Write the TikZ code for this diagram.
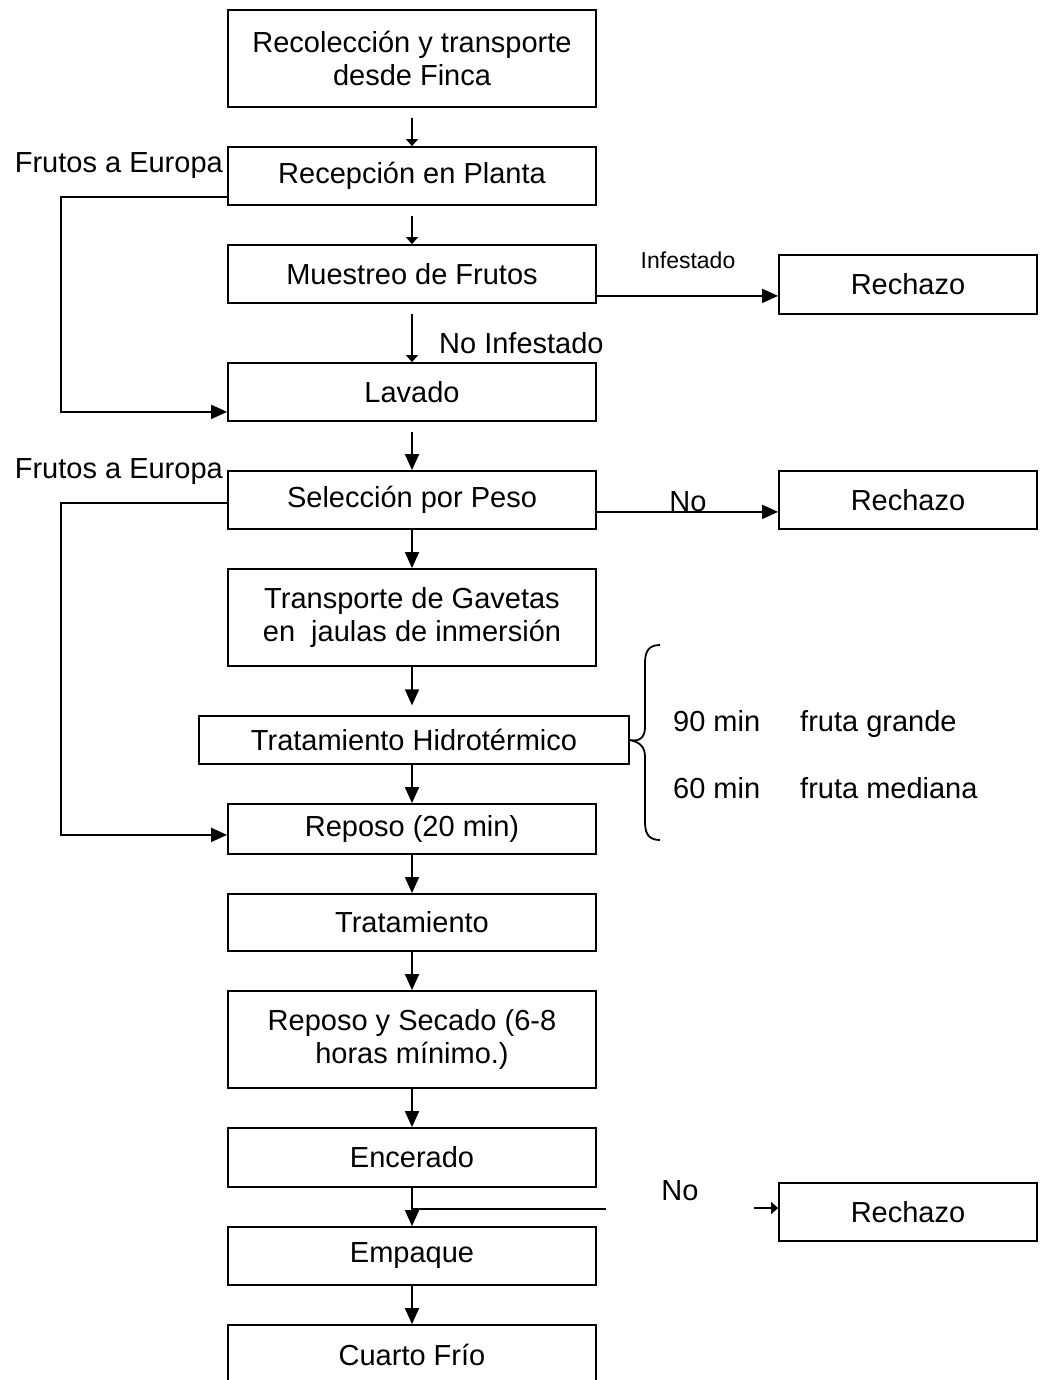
\documentclass[tikz,border=0pt]{standalone}
\usepackage{fontspec}
\setmainfont{Liberation Sans}
\usetikzlibrary{arrows.meta,calc}
\begin{document}
\begin{tikzpicture}[x=1pt,y=-1pt,
  txt/.style={font=\fontsize{29pt}{33pt}\selectfont},
  smalltxt/.style={font=\fontsize{23pt}{26pt}\selectfont},
  box/.style={draw, line width=1.8pt, rectangle, inner sep=0pt, align=center, minimum width=368pt, txt},
  rbox/.style={box, minimum width=258pt},
  conn/.style={line width=1.8pt},
  arr/.style={conn, -{Triangle[length=16pt,width=14pt]}},
  sarr/.style={conn, -{Triangle[length=7pt,width=12pt]}}]
\useasboundingbox (0,0) rectangle (1041,1380);
\fill[white] (0,0) rectangle (1041,1380);

% main boxes
\node[box, minimum height=97pt] (b1) at (412,58.5) {Recolección y transporte\\desde Finca};
\node[box, minimum height=58pt] (b2) at (412,176) {Recepción en Planta};
\node[box, minimum height=58pt] (b3) at (412,274) {Muestreo de Frutos};
\node[rbox, minimum height=59pt] (r1) at (908,284.5) {Rechazo};
\node[box, minimum height=58pt] (b4) at (412,392) {Lavado};
\node[box, minimum height=58pt] (b5) at (412,500) {Selección por Peso};
\node[rbox, minimum height=58pt] (r2) at (908,500) {Rechazo};
\node[box, minimum height=97pt] (b6) at (412,617.5) {Transporte de Gavetas\\en\ \ jaulas de inmersión};
\node[box, line width=1.3pt, minimum width=430pt, minimum height=48pt] (b7) at (414,740) {Tratamiento Hidrotérmico};
\node[box, minimum height=50pt] (b8) at (412,829) {Reposo (20 min)};
\node[box, minimum height=57pt] (b9) at (412,922.5) {Tratamiento};
\node[box, minimum height=97pt] (b10) at (412,1039.5) {Reposo y Secado (6-8\\horas mínimo.)};
\node[box, minimum height=59pt] (b11) at (412,1157.5) {Encerado};
\node[box, minimum height=58pt] (b12) at (412,1256) {Empaque};
\node[box, minimum height=60pt] (b13) at (412,1355) {Cuarto Frío};
\node[rbox, minimum height=58pt] (r3) at (908,1212) {Rechazo};

% labels
\node[txt, anchor=east, inner sep=0pt] (fe1) at (223,166) {Frutos a Europa};
\node[txt, anchor=east, inner sep=0pt] (fe2) at (223,472) {Frutos a Europa};
\node[smalltxt, inner sep=0pt] (linf) at (688,260) {Infestado};
\node[txt, anchor=west, inner sep=0pt] (lninf) at (439,343) {No Infestado};
\node[txt, anchor=base, inner sep=0pt] (lno1) at (688,511) {No};
\node[txt, inner sep=0pt] (lno2) at (680,1191) {No};
\node[txt, anchor=base west, inner sep=0pt] (t90) at (673,731) {90 min};
\node[txt, anchor=base west, inner sep=0pt] (tg) at (800,731) {fruta grande};
\node[txt, anchor=base west, inner sep=0pt] (t60) at (673,798) {60 min};
\node[txt, anchor=base west, inner sep=0pt] (tm) at (800,798) {fruta mediana};

% vertical flow
\draw[sarr] ($(b1.south)+(0,10)$) -- (b2.north);
\draw[sarr] ($(b2.south)+(0,10)$) -- (b3.north);
\draw[sarr] ($(b3.south)+(0,10)$) -- (b4.north);
\draw[arr] ($(b4.south)+(0,10)$) -- (b5.north);
\draw[arr] (b5.south) -- (b6.north);
\draw[arr] (b6.south) -- ($(b7.north)+(-2,-10)$);
\draw[arr] ($(b7.south)+(-2,0)$) -- (b8.north);
\draw[arr] (b8.south) -- (b9.north);
\draw[arr] (b9.south) -- (b10.north);
\draw[arr] (b10.south) -- (b11.north);
\draw[arr] (b11.south) -- (b12.north);
\draw[arr] (b12.south) -- (b13.north);

% rejections
\draw[arr] ([yshift=8pt]b3.south east) coordinate (s1) -- (s1 -| r1.west);
\draw[arr] ([yshift=18pt]b5.south east) coordinate (s2) -- (s2 -| r2.west);
\coordinate (br) at ($(b11.south)+(0,21)$);
\coordinate (brend) at ($(br)+(194,0)$);
\draw[conn] (br) -- (brend);
\coordinate (ra) at ($(r3.west)+(-24,-4)$);
\draw[sarr] (ra) -- (ra -| r3.west);

% Frutos a Europa bypasses
\draw[arr] ([yshift=9pt]b2.south west) -- ++(-166,0) |- ([yshift=10pt]b4.south west);
\draw[arr] ([yshift=27pt]b5.south west) -- ++(-166,0) |- ([yshift=20pt]b8.south west);

% brace
\draw[line width=1.8pt] (660,645) .. controls (649,645) and (645,651) .. (645,663)
  -- (645,727) .. controls (645,737) and (640,742) .. (b7.east)
  .. controls (640,742) and (645,747) .. (645,757)
  -- (645,822) .. controls (645,834) and (649,840) .. (660,840);
\end{tikzpicture}
\end{document}
